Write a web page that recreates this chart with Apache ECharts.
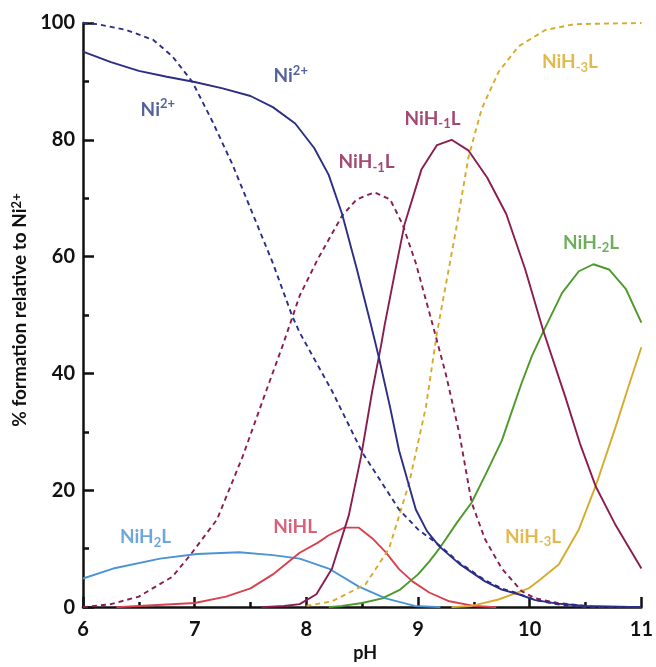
<!DOCTYPE html>
<html>
<head>
<meta charset="utf-8">
<script src="https://cdn.jsdelivr.net/npm/echarts@6/dist/echarts.min.js"></script>
<style>
html,body{margin:0;padding:0;background:#fff;}
#chart{width:656px;height:667px;}
</style>
</head>
<body>
<div id="chart"></div>
<script>
// ---- tick labels ----
const xTicks = [6, 7, 8, 9, 10, 11];
const yTicks = [0, 20, 40, 60, 80, 100];

// ---- series values: [pH, % formation] ----
const niSolid = [[6,95.1],[6.25,93.3],[6.5,91.8],[6.75,90.8],[7,89.9],[7.25,88.8],[7.5,87.5],[7.7,85.6],[7.9,82.8],[8.07,78.6],[8.2,74],[8.32,67.3],[8.45,58],[8.58,48.2],[8.65,42.7],[8.75,34.2],[8.83,26.8],[8.98,16.7],[9.08,13],[9.19,10.4],[9.37,7.4],[9.6,4.4],[9.75,3],[9.9,2.2],[10.05,1.2],[10.25,0.6],[10.5,0.2],[11,0]];
const niDashed = [[6,100],[6.13,99.8],[6.39,98.8],[6.63,97.1],[6.8,94.3],[6.98,89.9],[7.16,83.1],[7.34,75.7],[7.52,67.3],[7.7,58.9],[7.87,50],[7.94,47],[8.23,37],[8.5,26.5],[8.83,16.7],[9.0,13.3],[9.19,10.6],[9.37,7.6],[9.6,4.6],[9.75,3.2],[9.9,2.3],[10.05,1.2],[10.3,0.3],[10.5,0],[11,0]];
const nih1Dashed = [[6,0],[6.25,0.5],[6.5,1.8],[6.8,5.2],[6.96,8.9],[7.2,15],[7.43,25.8],[7.64,37],[7.79,44.9],[7.94,53.3],[8.1,59.5],[8.32,67],[8.45,69.8],[8.61,71],[8.75,69.8],[8.86,65.6],[8.98,58.9],[9.14,47.7],[9.25,39.8],[9.37,29.7],[9.48,17.9],[9.6,11.6],[9.75,6.6],[9.93,2.7],[10.05,1.5],[10.25,0.7],[10.6,0],[11,0]];
const nih1Solid = [[7.6,0],[7.8,0.2],[7.94,0.5],[8.09,2.2],[8.23,6.6],[8.38,15.7],[8.49,25.8],[8.59,37],[8.67,44.9],[8.7,48.2],[8.8,58],[8.88,65.6],[9.03,74.9],[9.17,79.1],[9.3,80],[9.45,78.2],[9.62,73.5],[9.79,67.3],[9.96,57.8],[10.12,47.4],[10.32,35.9],[10.45,28],[10.59,20.7],[10.77,14],[11,6.6]];
const nih3Dashed = [[8.0,0.2],[8.23,1],[8.53,3.9],[8.74,10],[8.92,21.2],[9.07,34.2],[9.17,47],[9.34,64.6],[9.45,76.9],[9.57,85.3],[9.72,91.6],[9.9,96],[10.14,98.8],[10.4,99.8],[11,100]];
const nih2Solid = [[8.2,0],[8.32,0.2],[8.5,0.7],[8.68,1.5],[8.84,3],[9.0,5.6],[9.1,7.8],[9.19,10],[9.35,14.5],[9.48,17.9],[9.6,22.5],[9.75,28.5],[9.84,33.5],[9.93,38.5],[10.02,43],[10.13,47.5],[10.29,53.8],[10.44,57.5],[10.57,58.7],[10.71,57.8],[10.86,54.5],[11,48.7]];
const nih3Solid = [[9.3,0],[9.48,0.2],[9.72,1.3],[9.99,3.2],[10.1,4.8],[10.26,7.3],[10.44,13.3],[10.59,20.7],[10.77,30.9],[10.88,37.5],[11,44.5]];
const nihlSolid = [[6.3,0],[6.5,0.2],[7.0,0.7],[7.28,1.8],[7.5,3.2],[7.7,5.6],[7.94,9.3],[8.1,11],[8.2,12.3],[8.34,13.6],[8.47,13.6],[8.6,11.6],[8.71,9.4],[8.83,6.5],[8.95,4.4],[9.1,2.5],[9.28,1],[9.5,0.2],[9.7,0]];
const nih2lSolid = [[6,4.9],[6.27,6.6],[6.69,8.3],[7.02,9.1],[7.4,9.4],[7.7,8.9],[7.94,8.3],[8.2,6.6],[8.47,3.5],[8.71,1.5],[8.97,0.2],[9.2,0]];

// ---- annotation labels: [text, pH, %] ----
const labelTexts = ['Ni{sup|2+}', 'Ni{sup|2+}', 'NiH{sub|-1}L', 'NiH{sub|-1}L', 'NiH{sub|-3}L', 'NiH{sub|-2}L', 'NiH{sub|-3}L', 'NiH{sub|2}L', 'NiHL'];
const labelX = [6.67, 7.86, 8.54, 9.13, 10.36, 10.55, 10.03, 6.56, 7.9];
const labelY = [85.2, 90.9, 76.2, 83.6, 93.3, 62.4, 12.1, 12.0, 13.7];

const C = {
  navy: '#2b2d86', maroon: '#8b1c4f', gold: '#d6ab2a', green: '#4c9a29', blue: '#4b93d6', red: '#d9414e',
  navyT: '#2b3a86', maroonT: '#8b1c4f', goldT: '#d9a820', greenT: '#4a9a30', blueT: '#4a90d0', redT: '#d03a55'
};
const labelColors = [C.navyT, C.navyT, C.maroonT, C.maroonT, C.goldT, C.greenT, C.goldT, C.blueT, C.redT];

const FONT = 'Lato, "Open Sans", sans-serif';
const DASH = [5, 4];

function line(name, data, color, dashed) {
  return {
    name: name, type: 'line', data: data, showSymbol: false, symbol: 'none',
    smooth: false, silent: true,
    lineStyle: { color: color, width: 1.9, type: dashed ? DASH : 'solid' }
  };
}

const richStyles = {
  b: { fontSize: 19, fontWeight: 'bold', fontFamily: FONT, lineHeight: 24 },
  sup: { fontSize: 13, fontWeight: 'bold', fontFamily: FONT, verticalAlign: 'top' },
  sub: { fontSize: 13, fontWeight: 'bold', fontFamily: FONT, verticalAlign: 'bottom' }
};

function wrapBase(t) {
  return t.split(/(\{[a-z]+\|[^}]*\})/).filter(s => s.length).map(s => s[0] === '{' ? s : '{b|' + s + '}').join('');
}

const labelData = labelTexts.map((t, i) => ({
  value: [labelX[i], labelY[i]],
  name: wrapBase(t),
  label: { color: labelColors[i] }
}));

const chart = echarts.init(document.getElementById('chart'), null, { renderer: 'canvas' });
chart.setOption({
  animation: false,
  backgroundColor: '#fff',
  textStyle: { fontFamily: FONT },
  grid: { left: 83, right: 13, top: 23, bottom: 51, containLabel: false },
  xAxis: {
    type: 'value',
    min: xTicks[0], max: xTicks[xTicks.length - 1], interval: xTicks[1] - xTicks[0],
    name: 'pH', nameLocation: 'middle', nameGap: 34,
    nameTextStyle: { fontSize: 18, fontWeight: 'bold', color: '#111', fontFamily: FONT, padding: [0, 0, 0, 6] },
    axisLine: { lineStyle: { color: '#111', width: 2.5 } },
    axisTick: { inside: true, length: 10, lineStyle: { color: '#111', width: 2.5 } },
    minorTick: { show: true, splitNumber: 2, length: 5, lineStyle: { color: '#111', width: 2.5 } },
    axisLabel: { fontSize: 20, fontWeight: 'bold', color: '#111', margin: 12, fontFamily: FONT },
    splitLine: { show: false }
  },
  yAxis: {
    type: 'value',
    min: yTicks[0], max: yTicks[yTicks.length - 1], interval: yTicks[1] - yTicks[0],
    name: '% formation relative to Ni{sup|2+}', nameLocation: 'middle', nameGap: 48, nameRotate: 90,
    nameTextStyle: {
      fontSize: 19, fontWeight: 'bold', color: '#111', fontFamily: FONT, padding: [0, 0, 0, 10],
      rich: {
        sup: { fontSize: 13, fontWeight: 'bold', color: '#111', fontFamily: FONT, verticalAlign: 'top' }
      }
    },
    axisLine: { show: true, lineStyle: { color: '#111', width: 2.5 } },
    axisTick: { inside: true, length: 11, lineStyle: { color: '#111', width: 2.5 } },
    minorTick: { show: true, splitNumber: 2, length: 6, lineStyle: { color: '#111', width: 2.5 } },
    axisLabel: { fontSize: 20, fontWeight: 'bold', color: '#111', margin: 8, fontFamily: FONT },
    splitLine: { show: false }
  },
  series: [
    line('NiH2L', nih2lSolid, C.blue, false),
    line('NiHL', nihlSolid, C.red, false),
    line('NiH-3L dashed', nih3Dashed, C.gold, true),
    line('NiH-3L', nih3Solid, C.gold, false),
    line('NiH-2L', nih2Solid, C.green, false),
    line('NiH-1L dashed', nih1Dashed, C.maroon, true),
    line('NiH-1L', nih1Solid, C.maroon, false),
    line('Ni2+ dashed', niDashed, C.navy, true),
    line('Ni2+', niSolid, C.navy, false),
    {
      name: 'labels', type: 'scatter', data: labelData, symbolSize: 1, silent: true,
      itemStyle: { color: 'rgba(0,0,0,0)' },
      label: {
        show: true, position: 'inside',
        formatter: p => p.name,
        rich: richStyles
      }
    }
  ]
});
</script>
</body>
</html>
